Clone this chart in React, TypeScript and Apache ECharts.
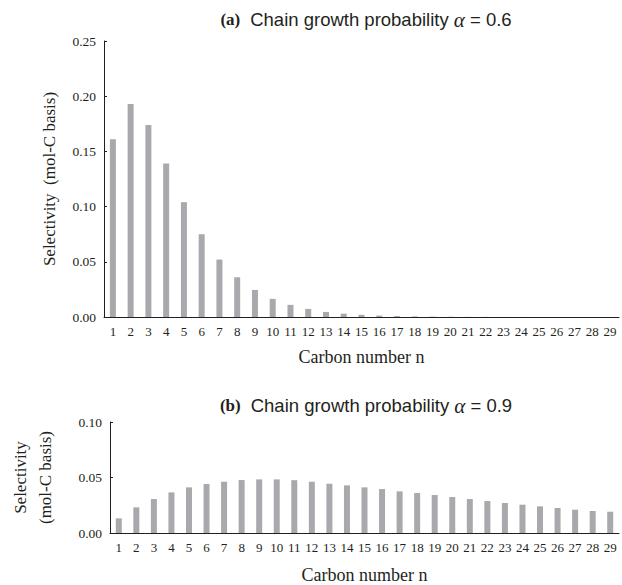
import React, { useEffect, useRef } from "react";
import * as echarts from "echarts";

const carbonNumbers = Array.from({ length: 29 }, (_, i) => String(i + 1));
const selectivityA = [
  0.161, 0.193, 0.174, 0.139, 0.104, 0.075, 0.052, 0.036, 0.0245, 0.0164,
  0.011, 0.0073, 0.0046, 0.003, 0.002, 0.0013, 0.0008, 0.0005, 0.0003, 0.0002,
  0.0001, 0.0001, 0.00005, 0.00003, 0.00002, 0.00001, 0.00001, 0, 0,
];
const selectivityB = [
  0.0132, 0.0231, 0.0306, 0.0366, 0.0411, 0.0441, 0.0462, 0.0477, 0.0483, 0.0483,
  0.0476, 0.0462, 0.0444, 0.0429, 0.0411, 0.0396, 0.0375, 0.036, 0.0342, 0.0324,
  0.0306, 0.0288, 0.027, 0.0255, 0.024, 0.0225, 0.021, 0.0198, 0.0192,
];
const yTicksA = { min: 0, max: 0.25, interval: 0.05 };
const yTicksB = { min: 0, max: 0.1, interval: 0.05 };

const SERIF = "'Liberation Serif', 'Times New Roman', serif";
const SANS = "'Liberation Sans', Arial, sans-serif";
const TEXT = "#231f20";
const BAR = "#a7a9ac";

const titleRich = {
  b: { fontFamily: SERIF, fontWeight: "bold", fontSize: 17, color: TEXT },
  s: { fontFamily: SANS, fontWeight: "normal", fontSize: 18.5, color: TEXT },
  i: { fontFamily: SERIF, fontStyle: "italic", fontWeight: "normal", fontSize: 21, color: TEXT },
};

function xAxis(gridIndex: number, nameGap: number) {
  return {
    type: "category",
    gridIndex,
    data: carbonNumbers,
    boundaryGap: true,
    name: "Carbon number n",
    nameLocation: "middle",
    nameGap,
    nameTextStyle: { fontFamily: SERIF, fontSize: 18, color: TEXT },
    axisLine: { lineStyle: { color: TEXT, width: 1 } },
    axisTick: { inside: true, length: 4, alignWithLabel: false, lineStyle: { color: TEXT } },
    axisLabel: { fontFamily: SERIF, fontSize: 13, color: TEXT, margin: 8, interval: 0 },
    splitLine: { show: false },
  };
}

function yAxis(gridIndex: number, t: any, name: string, nameGap: number, lineHeight: number) {
  return {
    type: "value",
    gridIndex,
    min: t.min,
    max: t.max,
    interval: t.interval,
    name,
    nameLocation: "middle",
    nameGap,
    nameTextStyle: { fontFamily: SERIF, fontSize: 17, color: TEXT, lineHeight },
    axisLine: { show: true, lineStyle: { color: TEXT, width: 1 } },
    axisTick: { show: true, inside: true, length: 3, lineStyle: { color: TEXT } },
    axisLabel: {
      fontFamily: SERIF,
      fontSize: 13.5,
      color: TEXT,
      margin: 8,
      formatter: (v: number) => v.toFixed(2),
    },
    splitLine: { show: false },
  };
}

export default function App() {
  const ref = useRef<HTMLDivElement>(null);
  useEffect(() => {
    if (!ref.current) return;
    const chart = echarts.init(ref.current, undefined, { renderer: "svg" });
    chart.setOption({
      animation: false,
      backgroundColor: "#ffffff",
      title: [
        {
          text: "{b|(a)}  {s|Chain growth probability }{i|α}{s| = 0.6}",
          left: 361,
          top: 4,
          textAlign: "center",
          textStyle: { fontWeight: "normal", rich: titleRich },
        },
        {
          text: "{b|(b)}  {s|Chain growth probability }{i|α}{s| = 0.9}",
          left: 361,
          top: 390,
          textAlign: "center",
          textStyle: { fontWeight: "normal", rich: titleRich },
        },
      ],
      grid: [
        { left: 104, right: 3, top: 41, height: 276 },
        { left: 104, right: 3, top: 422, height: 111 },
      ],
      xAxis: [xAxis(0, 31), xAxis(1, 33)],
      yAxis: [
        yAxis(0, yTicksA, "Selectivity  (mol-C basis)", 46, 18),
        yAxis(1, yTicksB, "Selectivity\n(mol-C basis)", 52, 25),
      ],
      series: [
        {
          type: "bar",
          xAxisIndex: 0,
          yAxisIndex: 0,
          data: selectivityA,
          barWidth: 6,
          itemStyle: { color: BAR },
        },
        {
          type: "bar",
          xAxisIndex: 1,
          yAxisIndex: 1,
          data: selectivityB,
          barWidth: 6,
          itemStyle: { color: BAR },
        },
      ],
    });
    return () => chart.dispose();
  }, []);
  return (
    <div
      ref={ref}
      style={{ position: "fixed", left: 0, top: 0, width: 622, height: 585 }}
    />
  );
}
